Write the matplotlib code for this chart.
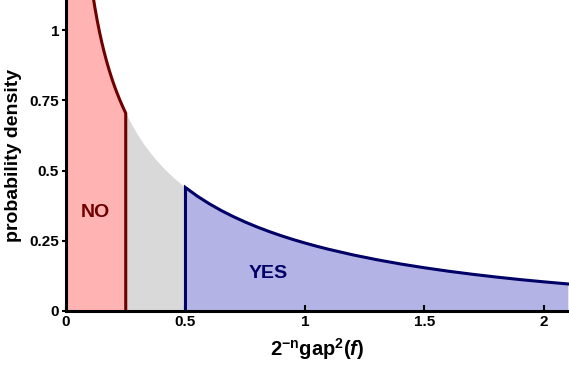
import matplotlib
matplotlib.use("Agg")
import matplotlib.pyplot as plt

plt.rcParams['font.family'] = ['Liberation Sans', 'DejaVu Sans']
plt.rcParams['font.weight'] = 'bold'
plt.rcParams['mathtext.fontset'] = 'custom'
plt.rcParams['mathtext.rm'] = 'Liberation Sans:bold'
plt.rcParams['mathtext.it'] = 'Liberation Sans:bold:italic'

# density curve
x_vals = [0.001, 0.05, 0.08, 0.1, 0.11, 0.12, 0.13, 0.14, 0.15, 0.16, 0.17, 0.18,
          0.19, 0.2, 0.21, 0.225, 0.24, 0.25,
          0.275, 0.3, 0.325, 0.35, 0.375, 0.4, 0.425, 0.45, 0.475, 0.5,
          0.55, 0.6, 0.65, 0.7, 0.75, 0.8, 0.85, 0.9, 0.95, 1.0, 1.05, 1.1,
          1.2, 1.3, 1.4, 1.5, 1.6, 1.7, 1.8, 1.9, 2.0, 2.1]
y_vals = [12.61, 1.7401, 1.3552, 1.2000, 1.1385, 1.0846, 1.0368, 0.9941, 0.9556,
          0.9207, 0.8887, 0.8594, 0.8323, 0.8072, 0.7838, 0.7516, 0.7223, 0.7041,
          0.6630, 0.6269, 0.5948, 0.5661, 0.5401, 0.5164, 0.4948, 0.4749, 0.4565,
          0.4394, 0.4086, 0.3815, 0.3575, 0.3360, 0.3166, 0.2990, 0.2829, 0.2681,
          0.2545, 0.2420, 0.2303, 0.2195, 0.1999, 0.1827, 0.1674, 0.1539, 0.1417,
          0.1308, 0.1209, 0.1119, 0.1038, 0.0963]

no_cut = 0.25
yes_cut = 0.5

x_ticks = [0, 0.5, 1, 1.5, 2]
x_tick_labels = ['0', '0.5', '1', '1.5', '2']
y_ticks = [0, 0.25, 0.5, 0.75, 1]
y_tick_labels = ['0', '0.25', '0.5', '0.75', '1']

red_x = [x for x in x_vals if x <= no_cut]
red_y = y_vals[:len(red_x)]
gray_x = [x for x in x_vals if no_cut <= x <= yes_cut]
gray_y = [y for x, y in zip(x_vals, y_vals) if no_cut <= x <= yes_cut]
blue_x = [x for x in x_vals if x >= yes_cut]
blue_y = y_vals[len(x_vals) - len(blue_x):]

fig = plt.figure(figsize=(5.69, 3.66), dpi=100)
ax = fig.add_axes([66 / 569, 55 / 366, 1 - 66 / 569, 311 / 366])

ax.fill_between(red_x, 0, red_y, color='#ffb3b3', lw=0)
ax.fill_between(gray_x, 0, gray_y, color='#d9d9d9', lw=0)
ax.fill_between(blue_x, 0, blue_y, color='#b3b3e6', lw=0)

dark_red = '#6e0000'
navy = '#000066'
ax.plot(red_x + [no_cut], red_y + [0], color=dark_red, lw=2.2, solid_joinstyle='miter')
ax.plot([yes_cut] + blue_x, [0] + blue_y, color=navy, lw=2.2, solid_joinstyle='miter')

ax.text(0.125, 0.35, 'NO', color=dark_red, fontsize=14, fontweight='bold',
        ha='center', va='center')
ax.text(0.845, 0.135, 'YES', color=navy, fontsize=14, fontweight='bold',
        ha='center', va='center')

ax.set_xlim(0, 2.105)
ax.set_ylim(0, 1.107)
ax.set_xticks(x_ticks)
ax.set_xticklabels(x_tick_labels)
ax.set_yticks(y_ticks)
ax.set_yticklabels(y_tick_labels)
ax.tick_params(axis='x', direction='in', length=4, width=1.5, labelsize=11, pad=3)
ax.tick_params(axis='y', direction='out', length=3, width=1.5, labelsize=11, pad=2)
for lab in ax.get_xticklabels() + ax.get_yticklabels():
    lab.set_fontweight('bold')

for side in ['top', 'right']:
    ax.spines[side].set_visible(False)
for side in ['left', 'bottom']:
    ax.spines[side].set_linewidth(2.2)

ax.set_xlabel(r'$\mathrm{2^{-n}gap^{2}(}f\mathrm{)}$', fontsize=14.5, labelpad=5)
ax.set_ylabel('probability density', fontsize=14, fontweight='bold', labelpad=5)

fig.savefig('out.png', dpi=100)
